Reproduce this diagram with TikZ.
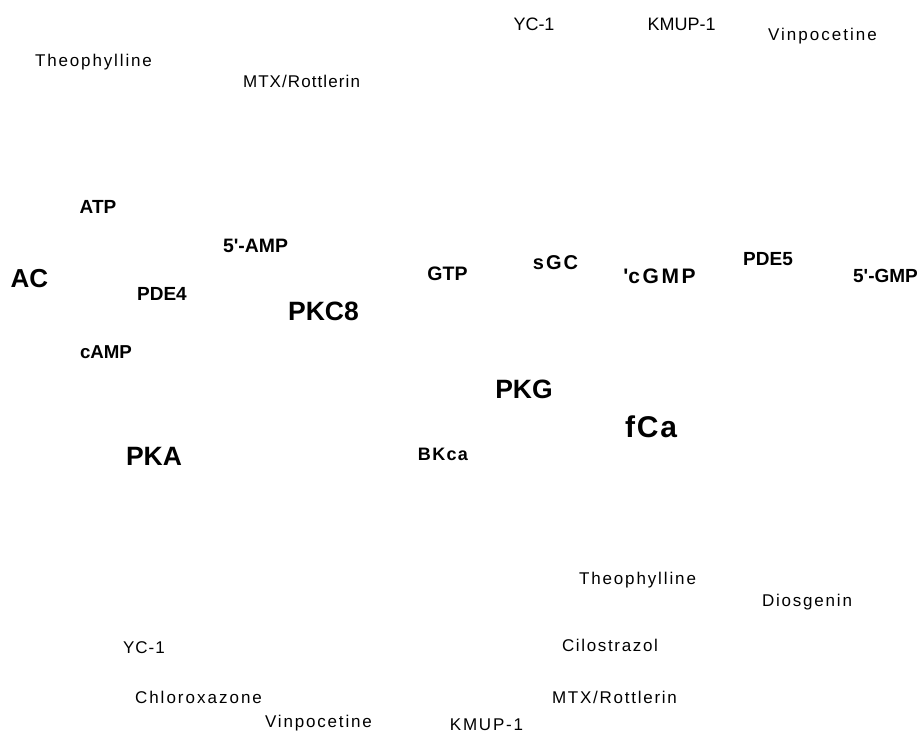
\documentclass[tikz,border=0pt]{standalone}
\usepackage{fontspec}
\setmainfont{Liberation Sans}
\newcommand\fz[2]{\fontsize{#1}{#1}\selectfont\addfontfeature{LetterSpace=#2}}
\tikzset{
  lbl/.style={anchor=base, inner sep=0pt, text=black},
  drug/.style={lbl},
  mol/.style={lbl}
}
\begin{document}
\begin{tikzpicture}[x=1pt,y=-1pt]
\useasboundingbox[fill=white] (0,0) rectangle (920,732);
% top drugs
\node[drug, font={\fz{17}{11}}] (theoT) at (93.5,66) {Theophylline};
\node[drug, font={\fz{17}{6.4}}] (mtxT) at (301.5,87) {MTX/Rottlerin};
\node[drug, font={\fz{18}{0}}] (ycT) at (534,30) {YC-1};
\node[drug, font={\fz{18}{0}}] (kmT) at (681.5,30) {KMUP-1};
\node[drug, font={\fz{17}{11.9}}] (vinT) at (822.5,40) {Vinpocetine};
% pathway molecules
\node[mol, font={\bfseries\fz{19}{0}}] (atp) at (98,213) {ATP};
\node[mol, font={\bfseries\fz{19.4}{0}}] (amp5) at (255.5,252) {5\textquotesingle-AMP};
\node[mol, font={\bfseries\fz{26}{0}}] (ac) at (29.5,287) {AC};
\node[mol, font={\bfseries\fz{19}{0}}] (pde4) at (162,300) {PDE4};
\node[mol, font={\bfseries\fz{26.5}{0}}] (pkc) at (323.5,320) {PKC8};
\node[mol, font={\bfseries\fz{18.7}{0}}] (camp) at (106,358) {cAMP};
\node[mol, font={\bfseries\fz{19.5}{0}}] (gtp) at (447.5,280) {GTP};
\node[mol, font={\bfseries\fz{20}{10}}] (sgc) at (555.5,269) {sGC};
\node[mol, font={\bfseries\fz{21}{12.5}}] (cgmp) at (659.5,283) {\textquotesingle cGMP};
\node[mol, font={\bfseries\fz{19}{0}}] (pde5) at (768,265) {PDE5};
\node[mol, font={\bfseries\fz{19}{0}}] (gmp5) at (885.5,282) {5\textquotesingle-GMP};
\node[mol, font={\bfseries\fz{26.5}{0}}] (pkg) at (524,398) {PKG};
\node[mol, font={\bfseries\fz{30}{6}}] (fca) at (651,437) {fCa};
\node[mol, font={\bfseries\fz{26.5}{0}}] (pka) at (154,465) {PKA};
\node[mol, font={\bfseries\fz{18}{7.4}}] (bkca) at (443,460) {BKca};
% bottom drugs
\node[drug, font={\fz{17}{11}}] (theoB) at (637.5,584) {Theophylline};
\node[drug, font={\fz{17}{10.6}}] (dios) at (807,606) {Diosgenin};
\node[drug, font={\fz{17}{9.8}}] (cilo) at (610,651) {Cilostrazol};
\node[drug, font={\fz{17}{6}}] (ycB) at (144,653) {YC-1};
\node[drug, font={\fz{17}{11.8}}] (chlor) at (198.5,703) {Chloroxazone};
\node[drug, font={\fz{17}{10.3}}] (mtxB) at (614.5,703) {MTX/Rottlerin};
\node[drug, font={\fz{17}{10.7}}] (vinB) at (318.5,727) {Vinpocetine};
\node[drug, font={\fz{17}{10.4}}] (kmB) at (486.5,730) {KMUP-1};
\end{tikzpicture}
\end{document}
